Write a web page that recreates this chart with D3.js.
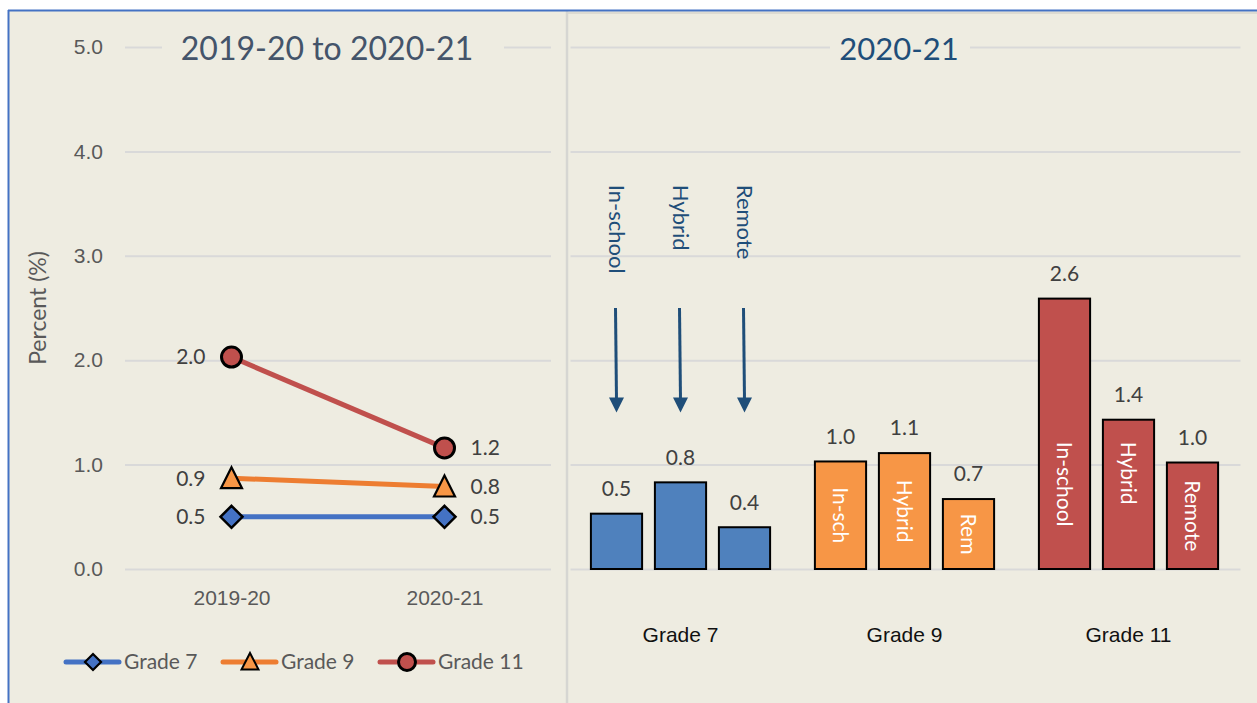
<!DOCTYPE html>
<html>
<head>
<meta charset="utf-8">
<script src="https://cdn.jsdelivr.net/npm/d3@7"></script>
<style>
  body { margin: 0; background: #ffffff; }
  svg { display: block; font-family: Lato, "Open Sans", sans-serif; }
</style>
</head>
<body>
<svg id="chart" width="1257" height="703"></svg>
<script>
// ---- data ----
var years = ["2019-20", "2020-21"];
var lineGrades = ["Grade 7", "Grade 9", "Grade 11"];
var grade7Trend = [0.5, 0.5];
var grade9Trend = [0.87, 0.79];
var grade11Trend = [2.03, 1.16];

var barGrades = ["Grade 7", "Grade 9", "Grade 11"];
var modes = ["In-school", "Hybrid", "Remote"];
var grade7Modes = [0.53, 0.83, 0.40];
var grade9Modes = [1.03, 1.11, 0.67];
var grade11Modes = [2.59, 1.43, 1.02];
var grade9ShortNames = ["In-sch", "Hybrid", "Rem"];

var yTicks = [0, 1, 2, 3, 4, 5];

// ---- layout ----
var W = 1257, H = 703;
var bg = "#EEECE1", grid = "#D9D9D9", tickColor = "#595959";
var fmt = d3.format(".1f");

var svg = d3.select("#chart");

// frame
svg.append("rect").attr("x", 8).attr("y", 10).attr("width", W).attr("height", H)
    .attr("fill", bg);
svg.append("line").attr("x1", 568).attr("x2", W).attr("y1", 13).attr("y2", 13)
    .attr("stroke", "#DDDBD2").attr("stroke-width", 2);
svg.append("line").attr("x1", 567).attr("x2", 567).attr("y1", 11).attr("y2", H)
    .attr("stroke", "#D6D6D2").attr("stroke-width", 2.5);
svg.append("line").attr("x1", 8).attr("x2", W).attr("y1", 10.5).attr("y2", 10.5)
    .attr("stroke", "#4472C4").attr("stroke-width", 2);
svg.append("line").attr("x1", 8.5).attr("x2", 8.5).attr("y1", 10).attr("y2", H)
    .attr("stroke", "#4472C4").attr("stroke-width", 2);

// shared y scale
var y = d3.scaleLinear().domain([0, 5]).range([569, 47]);

// =================== left panel: trend lines ===================
var left = {x0: 125, x1: 551};
var x = d3.scalePoint().domain(years).range([left.x0, left.x1]).padding(0.5);

var yAxisL = svg.append("g")
    .attr("transform", "translate(" + left.x0 + ",0)")
    .call(d3.axisLeft(y).tickValues(yTicks).tickFormat(fmt)
        .tickSize(-(left.x1 - left.x0)).tickPadding(22));
yAxisL.select(".domain").remove();
yAxisL.selectAll("line").attr("stroke", grid).attr("stroke-width", 2);
yAxisL.selectAll("text").attr("fill", tickColor).style("font-size", "21px");

var xAxisL = svg.append("g")
    .attr("transform", "translate(0," + y(0) + ")")
    .call(d3.axisBottom(x).tickSize(0).tickPadding(21));
xAxisL.select(".domain").remove();
xAxisL.selectAll("text").attr("fill", tickColor).style("font-size", "21px");

svg.append("text")
    .attr("transform", "translate(38," + 308 + ") rotate(-90)")
    .attr("text-anchor", "middle").attr("dy", "0.35em")
    .attr("fill", tickColor).style("font-size", "23px")
    .text("Percent (%)");

// title with a background box that breaks the top gridline
svg.append("rect").attr("x", 162).attr("y", 30).attr("width", 342).attr("height", 40)
    .attr("fill", bg);
svg.append("text").attr("x", 327).attr("y", 49).attr("dy", "0.35em")
    .attr("text-anchor", "middle").attr("fill", "#44546A")
    .style("font-size", "32px").text("2019-20 to 2020-21");

var lineColor = {"Grade 7": "#4472C4", "Grade 9": "#ED7D31", "Grade 11": "#C0504D"};
var markFill = {"Grade 7": "#4472C4", "Grade 9": "#F79646", "Grade 11": "#C0504D"};
var trends = {"Grade 7": grade7Trend, "Grade 9": grade9Trend, "Grade 11": grade11Trend};

function marker(g, grade, cx, cy) {
    if (grade === "Grade 7") {
        g.append("path")
            .attr("d", "M" + cx + "," + (cy - 11) + "L" + (cx + 11) + "," + cy +
                "L" + cx + "," + (cy + 11) + "L" + (cx - 11) + "," + cy + "Z")
            .attr("fill", markFill[grade]).attr("stroke", "#000").attr("stroke-width", 2.5)
            .attr("stroke-linejoin", "miter");
    } else if (grade === "Grade 9") {
        g.append("path")
            .attr("d", "M" + cx + "," + (cy - 11) + "L" + (cx + 10.5) + "," + (cy + 10) +
                "L" + (cx - 10.5) + "," + (cy + 10) + "Z")
            .attr("fill", markFill[grade]).attr("stroke", "#000").attr("stroke-width", 2.2);
    } else {
        g.append("circle").attr("cx", cx).attr("cy", cy).attr("r", 10)
            .attr("fill", markFill[grade]).attr("stroke", "#000").attr("stroke-width", 3);
    }
}

var line = d3.line()
    .x(function (d, i) { return x(years[i]); })
    .y(function (d) { return y(d); });

lineGrades.forEach(function (grade) {
    var vals = trends[grade];
    var g = svg.append("g");
    g.append("path").datum(vals)
        .attr("d", line).attr("fill", "none")
        .attr("stroke", lineColor[grade]).attr("stroke-width", 5);
    vals.forEach(function (v, i) {
        marker(g, grade, x(years[i]), y(v));
        g.append("text")
            .attr("x", i === 0 ? x(years[i]) - 26 : x(years[i]) + 26)
            .attr("y", y(v)).attr("dy", "0.35em")
            .attr("text-anchor", i === 0 ? "end" : "start")
            .attr("fill", "#404040").style("font-size", "21px")
            .text(fmt(v));
    });
});

// legend
var legend = svg.append("g").attr("transform", "translate(66,662)");
lineGrades.forEach(function (grade, i) {
    var lg = legend.append("g").attr("transform", "translate(" + (i * 157) + ",0)");
    lg.append("line").attr("x1", 0).attr("x2", 53).attr("y1", 0).attr("y2", 0)
        .attr("stroke", lineColor[grade]).attr("stroke-width", 5).attr("stroke-linecap", "round");
    if (grade === "Grade 7") {
        lg.append("path").attr("d", "M27,-8L35,0L27,8L19,0Z")
            .attr("fill", markFill[grade]).attr("stroke", "#000").attr("stroke-width", 2.2);
    } else if (grade === "Grade 9") {
        lg.append("path").attr("d", "M27,-9L35.5,7.5L18.5,7.5Z")
            .attr("fill", markFill[grade]).attr("stroke", "#000").attr("stroke-width", 2);
    } else {
        lg.append("circle").attr("cx", 27).attr("cy", 0).attr("r", 8.5)
            .attr("fill", markFill[grade]).attr("stroke", "#000").attr("stroke-width", 3);
    }
    lg.append("text").attr("x", 58).attr("y", 0).attr("dy", "0.35em")
        .attr("fill", tickColor).style("font-size", "21px").text(grade);
});

// =================== right panel: bars ===================
var right = {x0: 568.5, x1: 1240.5};

var gridR = svg.append("g")
    .attr("transform", "translate(" + (right.x0 + 2) + ",0)")
    .call(d3.axisLeft(y).tickValues(yTicks).tickFormat("")
        .tickSize(-(right.x1 - right.x0 - 2)));
gridR.select(".domain").remove();
gridR.selectAll("line").attr("stroke", grid).attr("stroke-width", 2);

svg.append("rect").attr("x", 830).attr("y", 30).attr("width", 140).attr("height", 40)
    .attr("fill", bg);
svg.append("text").attr("x", 899).attr("y", 49).attr("dy", "0.35em")
    .attr("text-anchor", "middle").attr("fill", "#1F4E79")
    .style("font-size", "31px").text("2020-21");

var gx = d3.scaleBand().domain(barGrades).range([right.x0, right.x1]);
var inner = d3.scaleBand().domain(modes)
    .range([gx.bandwidth() / 2 - 96, gx.bandwidth() / 2 + 96])
    .paddingInner(0.2).paddingOuter(0.1);

var barFill = {"Grade 7": "#4F81BD", "Grade 9": "#F79646", "Grade 11": "#C0504D"};
var barVals = {"Grade 7": grade7Modes, "Grade 9": grade9Modes, "Grade 11": grade11Modes};
var innerNames = {"Grade 9": grade9ShortNames, "Grade 11": modes};

var xAxisR = svg.append("g")
    .attr("transform", "translate(0," + y(0) + ")")
    .call(d3.axisBottom(gx).tickSize(0).tickPadding(58));
xAxisR.select(".domain").remove();
xAxisR.selectAll("text").attr("fill", "#111111").style("font-size", "21px");

barGrades.forEach(function (grade) {
    var g = svg.append("g").attr("transform", "translate(" + gx(grade) + ",0)");
    var data = modes.map(function (m, i) { return {mode: m, value: barVals[grade][i], i: i}; });

    g.selectAll("rect").data(data).enter().append("rect")
        .attr("x", function (d) { return inner(d.mode); })
        .attr("y", function (d) { return y(d.value); })
        .attr("width", inner.bandwidth())
        .attr("height", function (d) { return y(0) - y(d.value); })
        .attr("fill", barFill[grade]).attr("stroke", "#000").attr("stroke-width", 2);

    g.selectAll(".val").data(data).enter().append("text")
        .attr("class", "val")
        .attr("x", function (d) { return inner(d.mode) + inner.bandwidth() / 2; })
        .attr("y", function (d) { return y(d.value) - 25; })
        .attr("dy", "0.35em").attr("text-anchor", "middle")
        .attr("fill", "#404040").style("font-size", "21px")
        .text(function (d) { return fmt(d.value); });

    if (innerNames[grade]) {
        g.selectAll(".inname").data(data).enter().append("text")
            .attr("class", "inname")
            .attr("transform", function (d) {
                var cx = inner(d.mode) + inner.bandwidth() / 2;
                var cy = d.value > 1.2 ? y(1.2) - 2 : (y(d.value) + y(0)) / 2;
                return "translate(" + cx + "," + cy + ") rotate(90)";
            })
            .attr("dy", "0.35em")
            .attr("text-anchor", function (d) { return d.value > 1.2 ? "start" : "middle"; })
            .attr("fill", "#ffffff").style("font-size", "21px")
            .text(function (d) { return innerNames[grade][d.i]; });
    }
});

// annotations over the Grade 7 bars
var noteTop = 3.68, arrowFrom = 2.5, arrowTo = 1.5;
var noteColor = "#1F4E79";
modes.forEach(function (m) {
    var cx = gx("Grade 7") + inner(m) + inner.bandwidth() / 2;
    svg.append("text")
        .attr("transform", "translate(" + cx + "," + y(noteTop) + ") rotate(90)")
        .attr("dy", "0.35em").attr("text-anchor", "start")
        .attr("fill", noteColor).style("font-size", "22px").text(m);
    svg.append("line")
        .attr("x1", cx - 1).attr("x2", cx)
        .attr("y1", y(arrowFrom)).attr("y2", y(arrowTo) - 12)
        .attr("stroke", noteColor).attr("stroke-width", 3);
    svg.append("path")
        .attr("d", "M" + (cx - 7.5) + "," + (y(arrowTo) - 15) + "L" + (cx + 7.5) + "," +
            (y(arrowTo) - 15) + "L" + cx + "," + y(arrowTo) + "Z")
        .attr("fill", noteColor);
});
</script>
</body>
</html>
